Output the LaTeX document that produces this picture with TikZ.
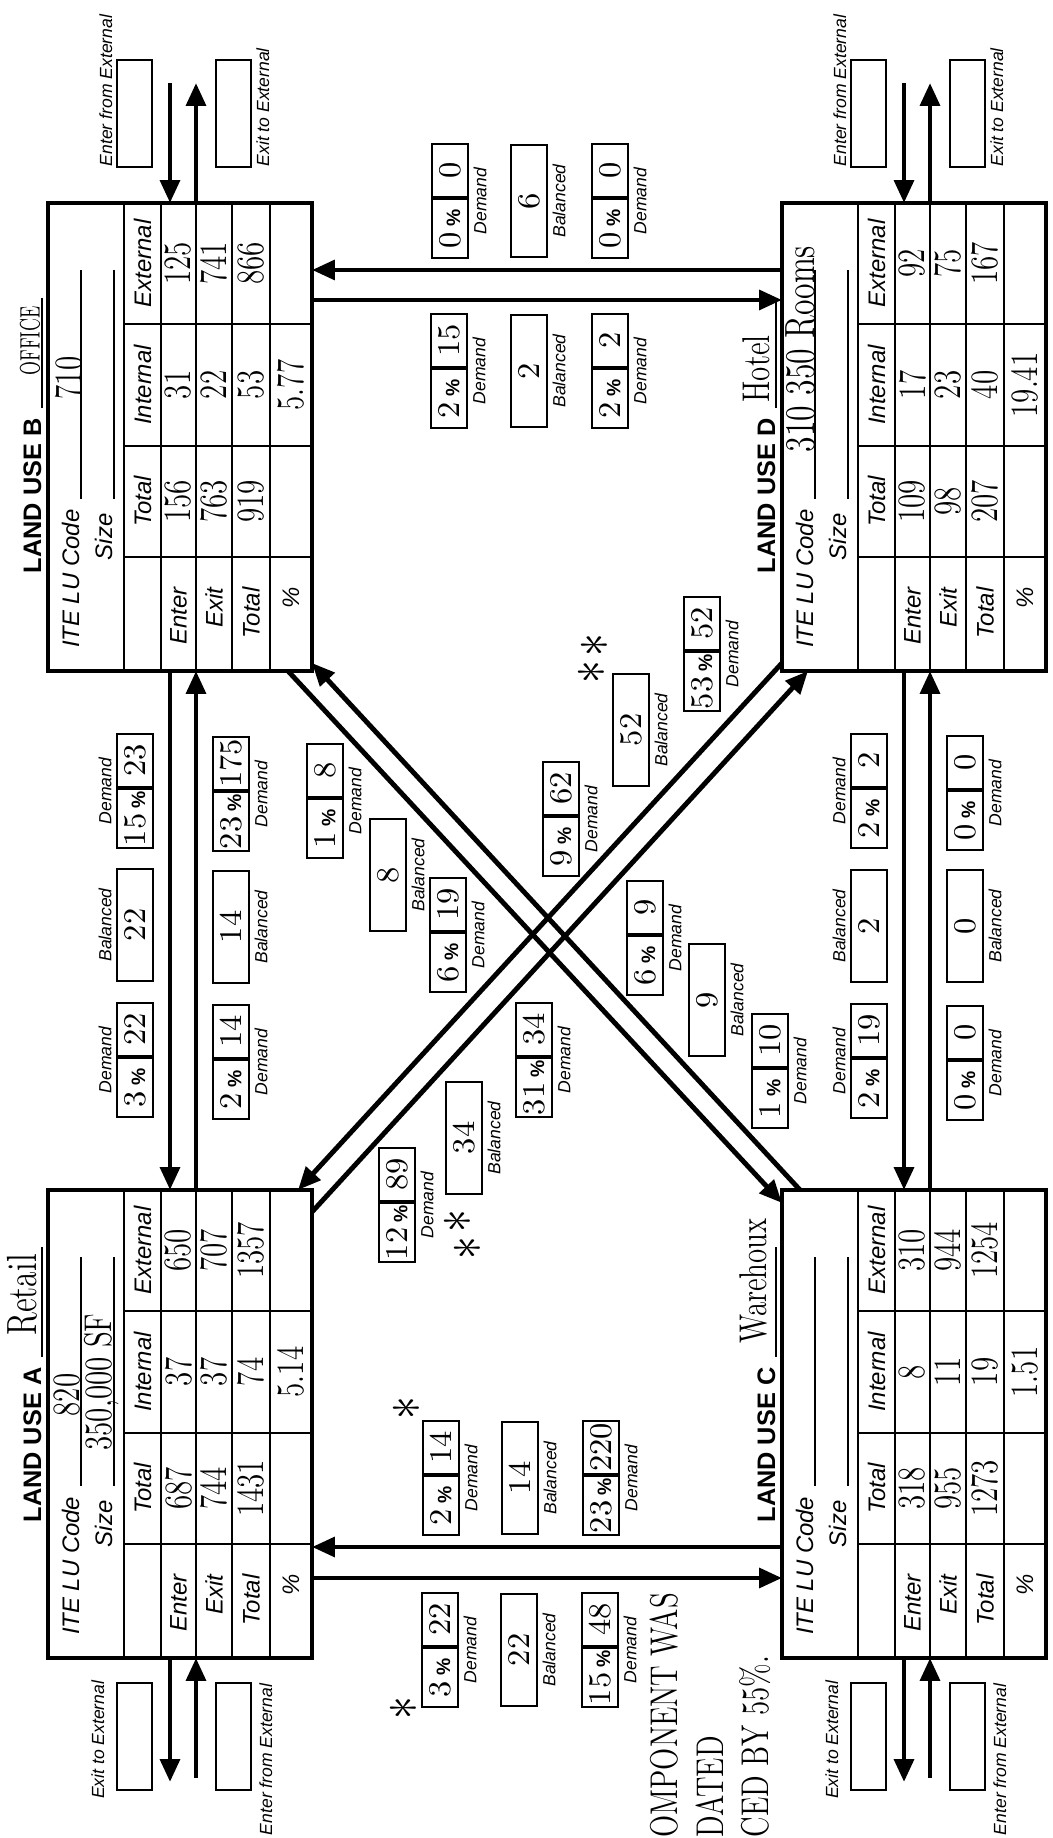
\documentclass[tikz,border=0pt]{standalone}
\usepackage{fontspec}
\usepackage{tikz}
\usetikzlibrary{arrows.meta}
\newfontfamily\prt{Liberation Sans}

\tikzset{
  luframe/.style={line width=1.1pt},
  cellline/.style={line width=0.5pt},
  flow/.style={line width=1.4pt,-{Triangle[length=6.5pt,width=5.5pt]}},
  slot/.style={draw,line width=0.7pt,minimum height=3.6mm,inner sep=0pt,
    font=\rmfamily\fontsize{9}{10}\selectfont},
  tag/.style={inner sep=0pt,font=\prt\itshape\fontsize{5}{6}\selectfont},
  hand/.style={inner sep=0pt,xscale=0.75,font=\rmfamily\fontsize{11}{12}\selectfont},
  lutitle/.style={inner sep=0pt,font=\prt\bfseries\fontsize{7.2}{8}\selectfont},
  lulabel/.style={inner sep=0pt,font=\prt\itshape\fontsize{6.8}{8}\selectfont},
}

% one land use form in its own frame, (0,0) = lower left corner
\newcommand{\luform}[3]{%
  \draw[luframe] (0,0) rectangle (468,264);
  \draw[cellline] (0,188) -- (468,188) (0,151) -- (468,151) (0,116) -- (468,116)
    (0,80) -- (468,80) (0,42) -- (468,42)
    (114,0) -- (114,188) (225,0) -- (225,188) (347,0) -- (347,188);
  \node[lutitle,anchor=base west] (#1-title) at (#2,271) {LAND USE #3};
  \draw[cellline] (#1-title.base east) ++(10,-1) -- ++(110,0);
  \node[lulabel,anchor=base east] (#1-code) at (162,233) {ITE LU Code};
  \node[lulabel,anchor=base east] (#1-size) at (158,200) {Size};
  \draw[cellline] (172,231) -- (401,231) (172,198) -- (401,198);
  \node[lulabel] (#1-htot) at (169.5,169.5) {Total};
  \node[lulabel] (#1-hint) at (286,169.5) {Internal};
  \node[lulabel] (#1-hext) at (407.5,169.5) {External};
  \node[lulabel,anchor=east] (#1-ren) at (84,133.5) {Enter};
  \node[lulabel,anchor=east] (#1-rex) at (84,98) {Exit};
  \node[lulabel,anchor=east] (#1-rto) at (84,61) {Total};
  \node[lulabel,anchor=east] (#1-rpc) at (84,21) {\%};
}
% handwritten column: name, centre, enter, exit, total
\newcommand{\lucol}[5]{%
  \node[hand] (#1-1) at (#2,133.5) {#3};
  \node[hand] (#1-2) at (#2,98) {#4};
  \node[hand] (#1-3) at (#2,61) {#5};
}
% external boxes, form on the left side of the sheet
\newcommand{\extleft}[1]{%
  \node[slot,minimum width=10.7mm,minimum height=3.5mm] (#1-xo) at (-78.5,177.5) {};
  \node[slot,minimum width=10.7mm,minimum height=3.5mm] (#1-xi) at (-78.5,78.5) {};
  \node[tag,anchor=base east] (#1-xol) at (-22,208) {Exit to External};
  \node[tag,anchor=base east] (#1-xil) at (-25,40) {Enter from External};
  \coordinate (#1-o1) at (0,142); \coordinate (#1-o2) at (-124,142);
  \coordinate (#1-i1) at (-120,116); \coordinate (#1-i2) at (0,116);
  \draw[flow] (#1-o1) -- (#1-o2);
  \draw[flow] (#1-i1) -- (#1-i2);
}
% external boxes, form on the right side of the sheet
\newcommand{\extright}[1]{%
  \node[slot,minimum width=10.7mm,minimum height=3.5mm] (#1-xi) at (557.5,177.5) {};
  \node[slot,minimum width=10.7mm,minimum height=3.5mm] (#1-xo) at (557.5,78.5) {};
  \node[tag,anchor=base west] (#1-xil) at (504,200) {Enter from External};
  \node[tag,anchor=base west] (#1-xol) at (504,43) {Exit to External};
  \coordinate (#1-i1) at (588,142); \coordinate (#1-i2) at (468,142);
  \coordinate (#1-o1) at (468,116); \coordinate (#1-o2) at (588,116);
  \draw[flow] (#1-i1) -- (#1-i2);
  \draw[flow] (#1-o1) -- (#1-o2);
}
% demand box: name, centre u, centre v, percent, trips, label offset
\newcommand{\dembox}[6]{%
  \node[slot,minimum width=5.9mm,anchor=east] (#1-p) at ({#2+3},#3)
    {#4\,{\prt\bfseries\fontsize{5.5}{6}\selectfont\%}};
  \node[slot,minimum width=5.3mm,anchor=west] (#1-n) at ({#2+3},#3) {#5};
  \node[tag] (#1-l) at (#2,{#3+(#6)}) {Demand};
}
% balanced box: name, centre u, centre v, trips, label offset
\newcommand{\balbox}[5]{%
  \node[slot,minimum width=11.2mm] (#1) at (#2,#3) {#4};
  \node[tag] (#1-l) at (#2,{#3+(#5)}) {Balanced};
}

\begin{document}
\begin{tikzpicture}[x=0.1mm,y=0.1mm]
  \path[use as bounding box,fill=white] (0,0) rectangle (1052,1838);
  % the sheet lies on its side: drawn in landscape, then turned
  \begin{scope}[shift={(1052,0)},rotate=90,transform shape]
  % (A) retail, upper left
  \begin{scope}[shift={(180,740)}]
    \luform{A}{135}{A}
    \extleft{A}
    \node[hand,font=\rmfamily\fontsize{12}{13}\selectfont] (A-name) at (363,290) {Retail};
    \node[hand] (A-cv) at (263,245) {820};
    \node[hand] (A-sv) at (276,210) {350,000 SF};
    \lucol{A-tot}{169.5}{687}{744}{1431}
    \lucol{A-int}{286}{37}{37}{74}
    \lucol{A-ext}{407.5}{650}{707}{1357}
    \node[hand] (A-pct) at (286,21) {5.14};
    \coordinate (A-e1) at (468,142); \coordinate (A-e2) at (468,116);
    \coordinate (A-s1) at (80,0); \coordinate (A-s2) at (111,0);
    \coordinate (A-d1) at (446,0); \coordinate (A-d2) at (468,14);
  \end{scope}
  % (B) office, upper right
  \begin{scope}[shift={(1167,740)}]
    \luform{B}{97}{B}
    \extright{B}
    \node[hand,xscale=0.8,font=\rmfamily\fontsize{8}{9}\selectfont] (B-name) at (330,282) {OFFICE};
    \node[hand] (B-cv) at (293,243) {710};
    \lucol{B-tot}{169.5}{156}{763}{919}
    \lucol{B-int}{286}{31}{22}{53}
    \lucol{B-ext}{407.5}{125}{741}{866}
    \node[hand] (B-pct) at (286,21) {5.77};
    \coordinate (B-w1) at (0,142); \coordinate (B-w2) at (0,116);
    \coordinate (B-s1) at (371,0); \coordinate (B-s2) at (401,0);
    \coordinate (B-d1) at (0,24); \coordinate (B-d2) at (8,0);
  \end{scope}
  % (C) warehouse, lower left
  \begin{scope}[shift={(180,6)}]
    \luform{C}{135}{C}
    \extleft{C}
    \node[hand] (C-name) at (377,293) {Warehoux};
    \lucol{C-tot}{169.5}{318}{955}{1273}
    \lucol{C-int}{286}{8}{11}{19}
    \lucol{C-ext}{407.5}{310}{944}{1254}
    \node[hand] (C-pct) at (286,21) {1.51};
    \coordinate (C-n1) at (80,264); \coordinate (C-n2) at (111,264);
    \coordinate (C-e1) at (468,142); \coordinate (C-e2) at (468,116);
    \coordinate (C-d1) at (455,264); \coordinate (C-d2) at (468,246);
  \end{scope}
  % (D) hotel, lower right
  \begin{scope}[shift={(1167,6)}]
    \luform{D}{97}{D}
    \extright{D}
    \node[hand] (D-name) at (302,290) {Hotel};
    \node[hand,font=\rmfamily\fontsize{12}{13}\selectfont] (D-cv) at (322,245) {310 350 Rooms};
    \lucol{D-tot}{169.5}{109}{98}{207}
    \lucol{D-int}{286}{17}{23}{40}
    \lucol{D-ext}{407.5}{92}{75}{167}
    \node[hand] (D-pct) at (286,21) {19.41};
    \coordinate (D-n1) at (371,264); \coordinate (D-n2) at (401,264);
    \coordinate (D-w1) at (0,142); \coordinate (D-w2) at (0,116);
    \coordinate (D-d1) at (0,238); \coordinate (D-d2) at (8,264);
  \end{scope}
  % trips between the land uses
  \draw[flow] (B-w1) -- (A-e1);
  \draw[flow] (A-e2) -- (B-w2);
  \draw[flow] (D-w1) -- (C-e1);
  \draw[flow] (C-e2) -- (D-w2);
  \draw[flow] (A-s1) -- (C-n1);
  \draw[flow] (C-n2) -- (A-s2);
  \draw[flow] (B-s1) -- (D-n1);
  \draw[flow] (D-n2) -- (B-s2);
  \draw[flow] (A-d1) -- (D-d1);
  \draw[flow] (D-d2) -- (A-d2);
  \draw[flow] (B-d1) -- (C-d1);
  \draw[flow] (C-d2) -- (B-d2);
  % A - B
  \dembox{ab1}{778}{917}{3}{22}{30}
  \balbox{ab2}{913}{917}{22}{30}
  \dembox{ab3}{1047}{917}{15}{23}{30}
  \dembox{ba1}{776}{821}{2}{14}{-30}
  \balbox{ba2}{911}{821}{14}{-30}
  \dembox{ba3}{1044}{821}{23}{175}{-30}
  % C - D
  \dembox{cd1}{777}{183}{2}{19}{30}
  \balbox{cd2}{912}{183}{2}{30}
  \dembox{cd3}{1047}{183}{2}{2}{30}
  \dembox{dc1}{775}{87}{0}{0}{-30}
  \balbox{dc2}{912}{87}{0}{-30}
  \dembox{dc3}{1045}{87}{0}{0}{-30}
  % A - C
  \dembox{ac1}{188}{612}{3}{22}{-30}
  \balbox{ac2}{188}{533}{22}{-30}
  \dembox{ac3}{188}{452}{15}{48}{-30}
  \dembox{ca1}{360}{611}{2}{14}{-30}
  \balbox{ca2}{360}{532}{14}{-30}
  \dembox{ca3}{360}{451}{23}{220}{-30}
  % B - D
  \dembox{bd1}{1467}{603}{2}{15}{-30}
  \balbox{bd2}{1467}{523}{2}{-30}
  \dembox{bd3}{1467}{442}{2}{2}{-30}
  \dembox{db1}{1637}{602}{0}{0}{-30}
  \balbox{db2}{1637}{523}{6}{-30}
  \dembox{db3}{1637}{442}{0}{0}{-30}
  % B - C
  \dembox{bc1}{1037}{727}{1}{8}{-30}
  \balbox{bc2}{963}{664}{8}{-30}
  \dembox{bc3}{903}{604}{6}{19}{-30}
  \dembox{cb1}{900}{407}{6}{9}{-30}
  \balbox{cb2}{838}{345}{9}{-30}
  \dembox{cb3}{767}{282}{1}{10}{-30}
  % A - D
  \dembox{ad1}{778}{518}{31}{34}{-30}
  \balbox{ad2}{700}{588}{34}{-30}
  \dembox{ad3}{633}{655}{12}{89}{-30}
  \dembox{da1}{1019}{491}{9}{62}{-30}
  \balbox{da2}{1108}{421}{52}{-30}
  \dembox{da3}{1184}{350}{53}{52}{-30}
  % hand marks
  \node[hand,font=\rmfamily\fontsize{16}{16}\selectfont] (st1) at (430,645) {$\ast$};
  \node[hand,font=\rmfamily\fontsize{16}{16}\selectfont] (st2) at (130,648) {$\ast$};
  \node[hand,font=\rmfamily\fontsize{16}{16}\selectfont] (st3) at (617,594) {$\ast$};
  \node[hand,font=\rmfamily\fontsize{16}{16}\selectfont] (st4) at (590,584) {$\ast$};
  \node[hand,font=\rmfamily\fontsize{16}{16}\selectfont] (st5) at (1193,457) {$\ast$};
  \node[hand,font=\rmfamily\fontsize{16}{16}\selectfont] (st6) at (1166,460) {$\ast$};
  \node[hand,anchor=west] (note1) at (0,388) {OMPONENT WAS};
  \node[hand,anchor=west] (note2) at (0,342) {DATED};
  \node[hand,anchor=west] (note3) at (0,297) {CED BY 55\%.};
  \end{scope}
\end{tikzpicture}
\end{document}
